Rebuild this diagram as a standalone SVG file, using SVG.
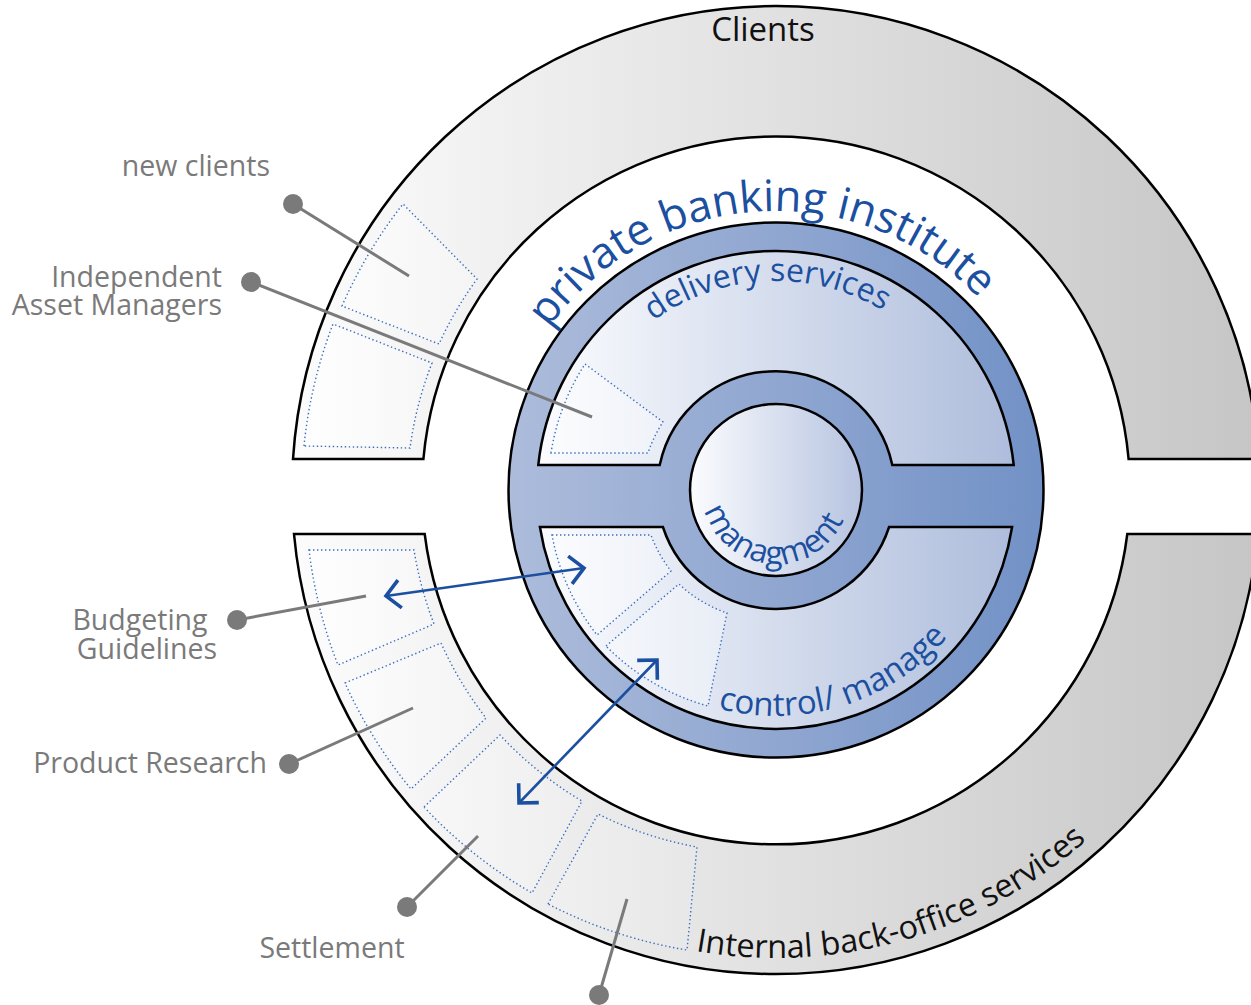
<svg xmlns="http://www.w3.org/2000/svg" width="1251" height="1005" viewBox="0 0 1251 1005">
<defs>
  <linearGradient id="gRing" gradientUnits="userSpaceOnUse" x1="293" y1="0" x2="1251" y2="0">
    <stop offset="0" stop-color="#fcfcfc"/>
    <stop offset="1" stop-color="#c6c6c6"/>
  </linearGradient>
  <linearGradient id="gBox" gradientUnits="userSpaceOnUse" x1="293" y1="0" x2="720" y2="0">
    <stop offset="0" stop-color="#ffffff"/>
    <stop offset="1" stop-color="#e6e6e6"/>
  </linearGradient>
  <linearGradient id="gDisk" gradientUnits="userSpaceOnUse" x1="508" y1="0" x2="1044" y2="0">
    <stop offset="0" stop-color="#adbcdb"/>
    <stop offset="1" stop-color="#7291c6"/>
  </linearGradient>
  <linearGradient id="gLight" gradientUnits="userSpaceOnUse" x1="538" y1="0" x2="1014" y2="0">
    <stop offset="0" stop-color="#fbfcfe"/>
    <stop offset="1" stop-color="#aebddc"/>
  </linearGradient>
  <linearGradient id="gCore" gradientUnits="userSpaceOnUse" x1="690" y1="0" x2="863" y2="0">
    <stop offset="0" stop-color="#fbfcfe"/>
    <stop offset="1" stop-color="#b6c3e0"/>
  </linearGradient>
  <marker id="chev" markerUnits="userSpaceOnUse" viewBox="-22 -20 28 40" markerWidth="28" markerHeight="40" refX="0" refY="0" orient="auto-start-reverse">
    <path d="M -14 -14 L 0 0 L -14 14" fill="none" stroke="#1b4f9f" stroke-width="3.6"/>
  </marker>
  <path id="pInst" d="M 497,490 A 279 279 0 0 1 1055,490"/>
  <path id="pDel" d="M 567,490 A 209 209 0 0 1 985,490"/>
  <path id="pMan" d="M 702,490 A 74 74 0 0 0 850,490"/>
  <path id="pCtl" d="M 550,490 A 226 226 0 0 0 1002,490"/>
  <path id="pInt" d="M 308,490 A 468 468 0 0 0 1244,490"/>
</defs>
<style>
  .ring { fill: url(#gRing); stroke: #000; stroke-width: 2.5; }
  .disk { fill: url(#gDisk); stroke: #000; stroke-width: 2.5; }
  .light { fill: url(#gLight); stroke: #000; stroke-width: 2.5; }
  .core { fill: url(#gCore); stroke: #000; stroke-width: 2.5; }
  .dot { fill: url(#gBox); stroke: #3a6dbf; stroke-width: 1.4; stroke-dasharray: 1.4 2.6; }
  .dotin { fill: #ffffff; fill-opacity: 0.35; stroke: #3a6dbf; stroke-width: 1.4; stroke-dasharray: 1.4 2.6; }
  .lead { stroke: #7a7a7a; stroke-width: 3; fill: none; }
  .pin { fill: #7a7a7a; }
  .lbl { font-family: "Open Sans", "Noto Sans", "DejaVu Sans", sans-serif; font-size: 28.5px; fill: #7a7a7a; }
  .blue { font-family: "Open Sans", "Noto Sans", "DejaVu Sans", sans-serif; fill: #1b4f9f; }
  .blk { font-family: "Open Sans", "Noto Sans", "DejaVu Sans", sans-serif; fill: #111; }
  .arrow { stroke: #1b4f9f; stroke-width: 2.6; fill: none; marker-start: url(#chev); marker-end: url(#chev); }
</style>

<g id="clients-ring">
  <path class="ring" d="M 293,459 A 484 484 0 0 1 1259,459 L 1128.6,459 A 354 354 0 0 0 423.4,459 Z"/>
  <text class="blk" x="763" y="41" font-size="33" text-anchor="middle">Clients</text>
</g>

<g id="backoffice-ring">
  <path class="ring" d="M 294,534 L 424.7,534 A 354 354 0 0 0 1127.3,534 L 1258,534 A 484 484 0 0 1 294,534 Z"/>
  <text class="blk" font-size="32.5"><textPath href="#pInt" startOffset="58.8%" text-anchor="middle">Internal back-office services</textPath></text>
</g>

<g id="ring-boxes">
  <path id="box-new-clients" class="dot" d="M 342,306 A 470 470 0 0 1 403,204 L 477,279 A 366 366 0 0 0 439,344 Z"/>
  <path id="box-iam" class="dot" d="M 304,446 A 473 473 0 0 1 333,324 L 432,363 A 367 367 0 0 0 410,448 Z"/>
  <path id="box-budget" class="dot" d="M 309,550 L 414,550 A 367 367 0 0 0 434,624 L 338,665 A 471 471 0 0 1 309,550 Z"/>
  <path id="box-product" class="dot" d="M 345,683 L 441,643 A 368 368 0 0 0 486,718 L 411,789 A 472 472 0 0 1 345,683 Z"/>
  <path id="box-settle" class="dot" d="M 424,807 L 500,735 A 368 368 0 0 0 582,801 L 532,893 A 472 472 0 0 1 424,807 Z"/>
  <path id="box-other" class="dot" d="M 548,904 L 598,814 A 368 368 0 0 0 697,847 L 687,950 A 470 470 0 0 1 548,904 Z"/>
</g>

<g id="institute">
  <circle class="disk" cx="776" cy="490" r="267.5"/>
  <text class="blue" font-size="43.5"><textPath href="#pInst" startOffset="47.8%" text-anchor="middle">private banking institute</textPath></text>
</g>

<g id="delivery-services">
  <path class="light" d="M 538.3,465 A 239 239 0 0 1 1013.7,465 L 892.3,465 A 119 119 0 0 0 659.7,465 Z"/>
  <path class="dotin" d="M 551,453 A 228 228 0 0 1 585,364 L 663,422 A 132 132 0 0 0 648,453 Z"/>
  <text class="blue" font-size="32"><textPath href="#pDel" startOffset="48.6%" text-anchor="middle">delivery services</textPath></text>
</g>

<g id="control-manage">
  <path class="light" d="M 539.9,527 L 662.9,527 A 119 119 0 0 0 889.1,527 L 1012.1,527 A 239 239 0 0 1 539.9,527 Z"/>
  <path class="dotin" d="M 552,535 L 651,535 A 132 132 0 0 0 671,571 L 597,635 A 229 229 0 0 1 552,535 Z"/>
  <path class="dotin" d="M 606,646 L 679,584 A 133 133 0 0 0 727,613 L 708,706 A 229 229 0 0 1 606,646 Z"/>
  <text class="blue" font-size="33"><textPath href="#pCtl" startOffset="59.6%" text-anchor="middle">control/ manage</textPath></text>
</g>

<g id="managment">
  <circle class="core" cx="776" cy="490" r="86"/>
  <text class="blue" font-size="32"><textPath href="#pMan" startOffset="47.8%" text-anchor="middle">managment</textPath></text>
</g>

<g id="label-new-clients">
  <text class="lbl" x="270" y="176" text-anchor="end">new clients</text>
  <circle class="pin" cx="293" cy="204" r="10"/>
</g>
<g id="label-iam">
  <text class="lbl" x="222" y="287" text-anchor="end">Independent</text>
  <text class="lbl" x="222" y="315" text-anchor="end">Asset Managers</text>
  <circle class="pin" cx="251" cy="282" r="10"/>
</g>
<g id="label-budget">
  <text class="lbl" x="140" y="630" text-anchor="middle">Budgeting</text>
  <text class="lbl" x="147" y="659" text-anchor="middle">Guidelines</text>
  <circle class="pin" cx="237" cy="620" r="10"/>
</g>
<g id="label-product">
  <text class="lbl" x="267" y="773" text-anchor="end">Product Research</text>
  <circle class="pin" cx="289" cy="764" r="10"/>
</g>
<g id="label-settlement">
  <text class="lbl" x="332" y="958" text-anchor="middle">Settlement</text>
  <circle class="pin" cx="407" cy="907" r="10"/>
</g>
<g id="label-bottom">
  <circle class="pin" cx="599" cy="995" r="10"/>
</g>

<g id="connectors">
  <line class="lead" x1="293" y1="204" x2="409" y2="276"/>
  <line class="lead" x1="251" y1="282" x2="592" y2="417"/>
  <line class="lead" x1="237" y1="620" x2="366" y2="596"/>
  <line class="lead" x1="289" y1="764" x2="413" y2="708"/>
  <line class="lead" x1="407" y1="907" x2="478" y2="836"/>
  <line class="lead" x1="599" y1="995" x2="627" y2="899"/>
  <line class="arrow" x1="386" y1="596" x2="584" y2="568"/>
  <line class="arrow" x1="519" y1="803" x2="657" y2="660"/>
</g>
</svg>
